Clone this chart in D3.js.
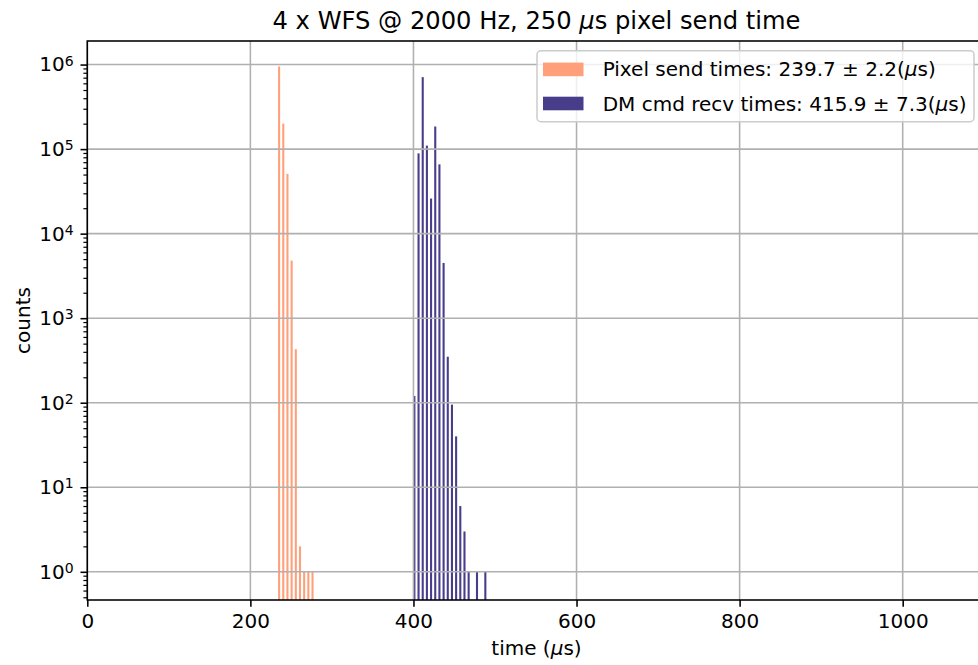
<!DOCTYPE html>
<html lang="en">
<head>
<meta charset="UTF-8">
<title>WFS timing histogram</title>
<script src="https://d3js.org/d3.v7.min.js"></script>
<style>
  body { margin: 0; background: #fff; }
  svg text { font-family: "DejaVu Sans", sans-serif; fill: #000; }
</style>
</head>
<body>
<div id="chart"></div>
<script>
// shared histogram bins (µs)
const binStart = 233.7;
const binWidth = 5.12;

// pixel send times: bin index and counts
const pixelBins = [0, 1, 2, 3, 4, 5, 6, 7, 8];
const pixelCounts = [950000, 200000, 51000, 4800, 430, 2, 1, 1, 1];

// DM cmd recv times: bin index and counts
const dmBins = [32, 33, 34, 35, 36, 37, 38, 39, 40, 41, 42, 43, 44, 45, 47, 49];
const dmCounts = [120, 89000, 710000, 110000, 26000, 185000, 66000, 4500, 350, 95, 40, 6, 3, 1, 1, 1];

const xTicks = [0, 200, 400, 600, 800, 1000];
const yTicks = [1, 10, 100, 1000, 10000, 100000, 1000000];
const yExp = ["0", "1", "2", "3", "4", "5", "6"];

const legendLabels = [
    { pre: "Pixel send times: 239.7 ± 2.2(", color: "#FFA07A" },
    { pre: "DM cmd recv times: 415.9 ± 7.3(", color: "#483D8B" }
];

const W = 978, H = 665;
const mL = 87.3, mR = 985.7, mT = 41, mB = 600;
const fs = 20;

const svg = d3.select("#chart").append("svg")
    .attr("width", W)
    .attr("height", H)
    .style("display", "block");

const x = d3.scaleLinear().domain([0, 1101.8]).range([mL, mR]);
const y = d3.scaleLog().domain([0.464, 1.9e6]).range([mB, mT]);

// bars (two datasets side by side in each bin, like matplotlib)
function drawBars(bins, counts, offset, color) {
    svg.append("g").selectAll("rect")
        .data(bins.map((b, i) => ({ b: b, c: counts[i] })))
        .enter().append("rect")
        .attr("x", d => x(binStart + (d.b + offset - 0.05) * binWidth))
        .attr("width", d => x(binStart + (d.b + offset + 0.45) * binWidth) - x(binStart + (d.b + offset - 0.05) * binWidth))
        .attr("y", d => y(d.c))
        .attr("height", d => mB - y(d.c))
        .attr("fill", color);
}
drawBars(pixelBins, pixelCounts, 0.1, legendLabels[0].color);
drawBars(dmBins, dmCounts, 0.5, legendLabels[1].color);

// grid
const grid = svg.append("g").attr("stroke", "#b0b0b0").attr("stroke-width", 1.56);
grid.selectAll(".gx").data(xTicks).enter().append("line")
    .attr("x1", d => x(d)).attr("x2", d => x(d))
    .attr("y1", mT).attr("y2", mB);
grid.selectAll(".gy").data(yTicks).enter().append("line")
    .attr("x1", mL).attr("x2", mR)
    .attr("y1", d => y(d)).attr("y2", d => y(d));

// x axis
const xAxis = svg.append("g")
    .attr("transform", `translate(0,${mB})`)
    .call(d3.axisBottom(x).tickValues(xTicks).tickFormat(d3.format("d")).tickSize(6.8).tickPadding(6.8));
xAxis.select(".domain").remove();
xAxis.selectAll(".tick line").attr("stroke", "#000").attr("stroke-width", 1.56);
xAxis.selectAll("text").style("font-size", fs + "px");

// y axis, minor ticks first
const minor = [];
for (let e = -1; e <= 6; e++) {
    for (let m = 2; m <= 9; m++) {
        const v = m * Math.pow(10, e);
        if (v >= 0.464 && v <= 1.9e6) minor.push(v);
    }
}
svg.append("g")
    .attr("transform", `translate(${mL},0)`)
    .call(d3.axisLeft(y).tickValues(minor).tickFormat("").tickSize(3.9))
    .call(g => g.select(".domain").remove())
    .selectAll(".tick line").attr("stroke", "#000").attr("stroke-width", 1.2);

const yAxis = svg.append("g")
    .attr("transform", `translate(${mL},0)`)
    .call(d3.axisLeft(y).tickValues(yTicks).tickFormat("").tickSize(6.8).tickPadding(6.8));
yAxis.select(".domain").remove();
yAxis.selectAll(".tick line").attr("stroke", "#000").attr("stroke-width", 1.56);
yAxis.selectAll(".tick text").each(function (d, i) {
    const t = d3.select(this).style("font-size", fs + "px");
    t.append("tspan").text("10");
    t.append("tspan").text(yExp[i]).attr("dy", "-0.42em").style("font-size", (fs * 0.7) + "px");
});

// spines
svg.append("rect")
    .attr("x", mL).attr("y", mT).attr("width", mR - mL).attr("height", mB - mT)
    .attr("fill", "none").attr("stroke", "#000").attr("stroke-width", 1.56);

// title
const title = svg.append("text")
    .attr("x", (mL + mR) / 2).attr("y", 29)
    .attr("text-anchor", "middle")
    .style("font-size", "24.2px");
title.append("tspan").text("4 x WFS @ 2000 Hz, 250 ");
title.append("tspan").text("μ").style("font-style", "italic");
title.append("tspan").text("s pixel send time");

// axis labels
const xl = svg.append("text")
    .attr("x", (mL + mR) / 2).attr("y", 655)
    .attr("text-anchor", "middle")
    .style("font-size", fs + "px");
xl.append("tspan").text("time (");
xl.append("tspan").text("μ").style("font-style", "italic");
xl.append("tspan").text("s)");

svg.append("text")
    .attr("transform", `translate(30,${(mT + mB) / 2}) rotate(-90)`)
    .attr("text-anchor", "middle")
    .style("font-size", fs + "px")
    .text("counts");

// legend
const lg = svg.append("g");
lg.append("rect")
    .attr("x", 537).attr("y", 50.7).attr("width", 437).attr("height", 71)
    .attr("rx", 4).attr("fill", "#fff").attr("fill-opacity", 0.8)
    .attr("stroke", "#cccccc").attr("stroke-width", 1.5);
legendLabels.forEach((d, i) => {
    const cy = 69.4 + i * 34.1;
    lg.append("rect")
        .attr("x", 543).attr("y", cy - 6.8).attr("width", 40.5).attr("height", 13.6)
        .attr("fill", d.color);
    const t = lg.append("text")
        .attr("x", 602.7).attr("y", cy + 7)
        .style("font-size", fs + "px");
    t.append("tspan").text(d.pre);
    t.append("tspan").text("μ").style("font-style", "italic");
    t.append("tspan").text("s)");
});
</script>
</body>
</html>
